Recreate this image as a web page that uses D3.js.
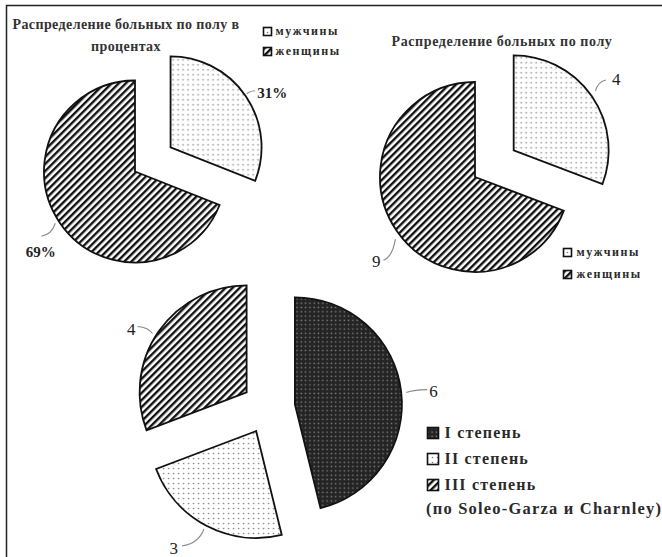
<!DOCTYPE html>
<html>
<head>
<meta charset="utf-8">
<script src="https://cdn.jsdelivr.net/npm/d3@7"></script>
<style>
  html, body { margin: 0; padding: 0; background: #fff; }
  svg { display: block; }
</style>
</head>
<body>
<script>
// ---- data ----
const sexCategories = ["мужчины", "женщины"];
const sexPercent = [31, 69];
const sexPercentLabels = ["31%", "69%"];
const sexCounts = [4, 9];
const sexCountLabels = ["4", "9"];
const degreeCategories = ["I степень", "II степень", "III степень"];
const degreeCounts = [6, 3, 4];
const degreeCountLabels = ["6", "3", "4"];
const degreeNote = "(по Soleo-Garza и Charnley)";
const titlePercentLines = ["Распределение больных по полу в", "процентах"];
const titleCounts = "Распределение больных по полу";

// ---- page ----
const W = 662, H = 557;
const FONT = "'Liberation Serif', 'Times New Roman', serif";
const svg = d3.select("body").append("svg").attr("width", W).attr("height", H);
svg.append("rect").attr("width", W).attr("height", H).attr("fill", "#fff");

// fill patterns
const defs = svg.append("defs");
const dots = defs.append("pattern").attr("id", "dots")
  .attr("patternUnits", "userSpaceOnUse").attr("width", 5).attr("height", 5);
dots.append("rect").attr("width", 5).attr("height", 5).attr("fill", "#fff");
dots.append("circle").attr("cx", 2.5).attr("cy", 2.5).attr("r", 0.8).attr("fill", "#7a7a7a");

const hatch = defs.append("pattern").attr("id", "hatch")
  .attr("patternUnits", "userSpaceOnUse").attr("width", 5).attr("height", 5)
  .attr("patternTransform", "rotate(45)");
hatch.append("rect").attr("width", 5).attr("height", 5).attr("fill", "#fff");
hatch.append("rect").attr("width", 2.4).attr("height", 5).attr("fill", "#111");

const dark = defs.append("pattern").attr("id", "dark")
  .attr("patternUnits", "userSpaceOnUse").attr("width", 4.3).attr("height", 4.3);
dark.append("rect").attr("width", 4.3).attr("height", 4.3).attr("fill", "#242424");
dark.append("rect").attr("x", 1.4).attr("y", 1.4).attr("width", 1.4).attr("height", 1.4).attr("fill", "#858585");

const sexFills = ["url(#dots)", "url(#hatch)"];
const degreeFills = ["url(#dark)", "url(#dots)", "url(#hatch)"];

// outer frame
svg.append("rect").attr("x", 6.5).attr("y", 5.5).attr("width", W).attr("height", H)
  .attr("fill", "none").attr("stroke", "#222").attr("stroke-width", 1.5);

// ---- exploded pie with leader-line labels ----
function drawPie(values, texts, fills, cfg) {
  const g = svg.append("g");
  const pie = d3.pie().sort(null).value(d => d);
  const arc = d3.arc().innerRadius(0).outerRadius(cfg.r);
  const arcs = pie(values);

  arcs.forEach((a, i) => {
    const mid = (a.startAngle + a.endAngle) / 2;
    const e = cfg.explode[i];
    const ox = cfg.cx + e * Math.sin(mid), oy = cfg.cy - e * Math.cos(mid);
    g.append("path")
      .attr("transform", `translate(${ox},${oy})`)
      .attr("d", arc(a))
      .attr("fill", fills[i])
      .attr("stroke", "#111").attr("stroke-width", 1.8).attr("stroke-linejoin", "miter");

    const L = cfg.labels[i];
    const ang = L.a * Math.PI / 180;
    const sx = ox + (cfg.r + L.gap) * Math.sin(ang);
    const sy = oy - (cfg.r + L.gap) * Math.cos(ang);
    const ex = sx + L.dx, ey = sy + L.dy;
    g.append("path")
      .attr("d", `M${sx},${sy} Q${sx + L.dx * 0.25},${sy + L.dy * 0.85} ${ex},${ey}`)
      .attr("fill", "none").attr("stroke", "#8a8a8a").attr("stroke-width", 1.1);
    g.append("text")
      .attr("x", ex + L.tx).attr("y", ey + L.ty)
      .attr("text-anchor", L.anchor)
      .attr("font-family", FONT).attr("font-size", cfg.fontSize)
      .attr("font-weight", cfg.fontWeight).attr("fill", "#222")
      .text(texts[i]);
  });
}

function drawLegend(items, fills, cfg) {
  const g = svg.append("g");
  items.forEach((t, i) => {
    const y = cfg.y + i * cfg.step;
    g.append("rect")
      .attr("x", cfg.x).attr("y", y - cfg.box + 0.5)
      .attr("width", cfg.box).attr("height", cfg.box)
      .attr("fill", fills[i]).attr("stroke", "#111").attr("stroke-width", 1.6);
    g.append("text")
      .attr("x", cfg.x + cfg.box + cfg.pad).attr("y", y)
      .attr("font-family", FONT).attr("font-size", cfg.fontSize)
      .attr("font-weight", "bold").attr("letter-spacing", cfg.spacing)
      .attr("fill", "#2a2a2a")
      .text(t);
  });
  return g;
}

// Chart 1: share by sex, percent
titlePercentLines.forEach((t, i) => {
  svg.append("text").attr("x", 126).attr("y", 29 + i * 22)
    .attr("text-anchor", "middle")
    .attr("font-family", FONT).attr("font-size", 14).attr("font-weight", "bold")
    .attr("letter-spacing", 0.4).attr("fill", "#333").text(t);
});
drawPie(sexPercent, sexPercentLabels, sexFills, {
  cx: 135, cy: 171.5, r: 91, explode: [43, 0], fontSize: 15, fontWeight: "bold",
  labels: [
    { a: 55, gap: 2, dx: 8.4, dy: -3.3, tx: 2, ty: 7, anchor: "start" },
    { a: 237, gap: 4, dx: -14, dy: 13, tx: -0.5, ty: 21, anchor: "middle" }
  ]
});
drawLegend(sexCategories, sexFills, { x: 263.5, y: 35, step: 20, box: 8, pad: 4, fontSize: 12, spacing: 1.6 });

// Chart 2: share by sex, counts
svg.append("text").attr("x", 502).attr("y", 46)
  .attr("text-anchor", "middle")
  .attr("font-family", FONT).attr("font-size", 14).attr("font-weight", "bold")
  .attr("letter-spacing", 0.6).attr("fill", "#333").text(titleCounts);
drawPie(sexCounts, sexCountLabels, sexFills, {
  cx: 475, cy: 177, r: 95, explode: [47, 0], fontSize: 17, fontWeight: "normal",
  labels: [
    { a: 54, gap: 6, dx: 10.6, dy: -11, tx: 6, ty: 5, anchor: "start" },
    { a: 232, gap: 6, dx: -12, dy: 21, tx: -3, ty: 7, anchor: "end" }
  ]
});
drawLegend(sexCategories, sexFills, { x: 563.5, y: 256, step: 22, box: 8, pad: 5, fontSize: 12, spacing: 1.6 });

// Chart 3: severity degree
drawPie(degreeCounts, degreeCountLabels, degreeFills, {
  cx: 268.5, cy: 407.5, r: 107, explode: [26.6, 26.6, 26.6], fontSize: 17, fontWeight: "normal",
  labels: [
    { a: 84, gap: 5, dx: 21, dy: -3, tx: 2, ty: 7, anchor: "start" },
    { a: 208, gap: 4, dx: -22, dy: 17, tx: -4, ty: 8, anchor: "end" },
    { a: 302, gap: 4, dx: -15, dy: -7, tx: -2, ty: 8, anchor: "end" }
  ]
});
drawLegend(degreeCategories, degreeFills, { x: 427.5, y: 438, step: 26, box: 11, pad: 6, fontSize: 16, spacing: 1.2 });
svg.append("text").attr("x", 426).attr("y", 514)
  .attr("font-family", FONT).attr("font-size", 16.5).attr("font-weight", "bold")
  .attr("letter-spacing", 1.2).attr("fill", "#2a2a2a").text(degreeNote);
</script>
</body>
</html>
